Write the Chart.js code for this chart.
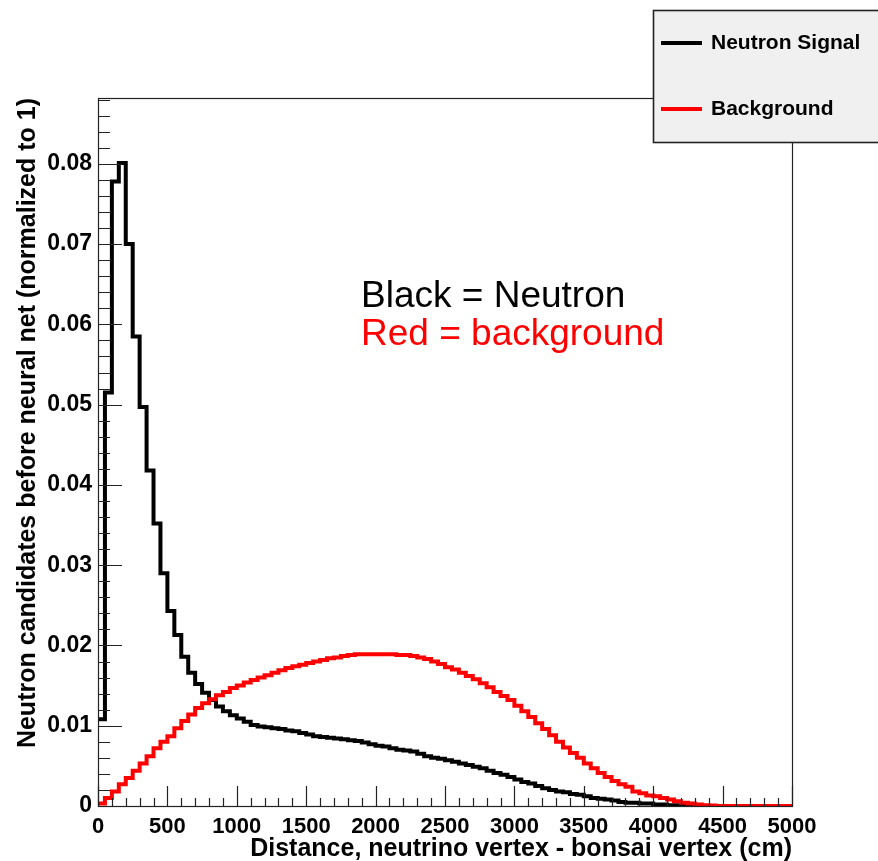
<!DOCTYPE html>
<html>
<head>
<meta charset="utf-8">
<script src="https://cdn.jsdelivr.net/npm/chart.js@4.4.1/dist/chart.umd.min.js"></script>
<style>
  html, body { margin: 0; padding: 0; background: #fff; }
  #wrap { width: 878px; height: 861px; }
</style>
</head>
<body>
<div id="wrap"><canvas id="chart" width="878" height="861"></canvas></div>
<script>
// histogram: 100 bins of 50 cm from 0 to 5000
const binWidth = 50;
const xMax = 5000;
const yMax = 0.0882;

const neutronSignal = [
  0.0108, 0.0515, 0.0778, 0.0801, 0.0700, 0.0585, 0.0497, 0.0418, 0.0352, 0.0290,
  0.0243, 0.0213, 0.0186, 0.0166, 0.0152, 0.0141, 0.0132, 0.0124, 0.0118, 0.0113,
  0.0109, 0.0105, 0.0101, 0.0099, 0.0098, 0.0097, 0.0096, 0.0094, 0.0093, 0.0091,
  0.0089, 0.0087, 0.0086, 0.0085, 0.0084, 0.0083, 0.0082, 0.0081, 0.0079, 0.0077,
  0.0075, 0.0074, 0.0072, 0.0070, 0.0069, 0.0068, 0.0065, 0.0062, 0.0060, 0.0059,
  0.0057, 0.0055, 0.0053, 0.0051, 0.0049, 0.0047, 0.0044, 0.0041, 0.0039, 0.0036,
  0.0033, 0.0030, 0.0028, 0.0025, 0.0022, 0.0020, 0.0018, 0.0017, 0.0015, 0.0014,
  0.0012, 0.0010, 0.0009, 0.0008, 0.0007, 0.0005, 0.0004, 0.0004, 0.0003, 0.0003,
  0.0002, 0.0002, 0.0001, 0.0001, 0.0001, 0.00005, 0, 0, 0, 0,
  0, 0, 0, 0, 0, 0, 0, 0, 0, 0
];

const background = [
  0.0003, 0.0010, 0.0018, 0.0027, 0.0035, 0.0044, 0.0053, 0.0062, 0.0072, 0.0080,
  0.0087, 0.0097, 0.0106, 0.0114, 0.0122, 0.0128, 0.0133, 0.0138, 0.0142, 0.0147,
  0.0150, 0.0154, 0.0157, 0.0160, 0.0163, 0.0166, 0.0169, 0.0172, 0.0174, 0.0176,
  0.0178, 0.0180, 0.0182, 0.0184, 0.0185, 0.0187, 0.0188, 0.0189, 0.0189, 0.0189,
  0.0189, 0.0189, 0.0189, 0.0188, 0.0188, 0.0187, 0.0185, 0.0183, 0.0180, 0.0177,
  0.0173, 0.0170, 0.0166, 0.0162, 0.0158, 0.0153, 0.0148, 0.0142, 0.0137, 0.0132,
  0.0125, 0.0118, 0.0111, 0.0103, 0.0096, 0.0088, 0.0080, 0.0073, 0.0066, 0.0060,
  0.0053, 0.0047, 0.0041, 0.0036, 0.0031, 0.0027, 0.0024, 0.0018, 0.0016, 0.0013,
  0.0012, 0.0010, 0.0008, 0.0006, 0.0004, 0.0003, 0.0002, 0.0001, 0.00005, 0,
  0, 0, 0, 0, 0, 0, 0, 0, 0, 0
];

const xTickValues = [0, 500, 1000, 1500, 2000, 2500, 3000, 3500, 4000, 4500, 5000];
const yTickValues = [0, 0.01, 0.02, 0.03, 0.04, 0.05, 0.06, 0.07, 0.08];

const legendLabels = ['Neutron Signal', 'Background'];
const noteLines = ['Black = Neutron', 'Red = background'];

// step outline: one point per bin low edge (value holds until the next point),
// plus a closing point at the high edge of the last bin
function toSteps(values) {
  const pts = values.map((v, i) => ({ x: i * binWidth, y: v }));
  pts.push({ x: values.length * binWidth, y: values[values.length - 1] });
  return pts;
}

const frameColor = '#222';

// ROOT-ish frame, inward ticks, legend box and the text notes
const rootStyle = {
  id: 'rootStyle',
  afterDatasetsDraw(chart) {
    const { ctx, chartArea: a, scales: { x, y } } = chart;
    ctx.save();
    ctx.strokeStyle = frameColor;
    ctx.lineWidth = 1.2;

    // frame
    ctx.strokeRect(a.left + 0.5, a.top + 0.5, a.right - a.left, a.bottom - a.top);

    // y ticks (major 0.01, minor 0.002), pointing into the plot
    ctx.beginPath();
    for (let k = 0; k * 0.002 <= yMax + 1e-9; k++) {
      const py = Math.round(y.getPixelForValue(k * 0.002)) + 0.5;
      const len = (k % 5 === 0) ? 24 : 12;
      ctx.moveTo(a.left, py);
      ctx.lineTo(a.left + len, py);
    }
    // x ticks (major 500, minor 100), pointing up
    for (let k = 0; k * 100 <= xMax; k++) {
      const px = Math.round(x.getPixelForValue(k * 100)) + 0.5;
      const len = (k % 5 === 0) ? 20 : 8;
      ctx.moveTo(px, a.bottom);
      ctx.lineTo(px, a.bottom - len);
    }
    ctx.stroke();

    // notes inside the plot
    ctx.font = '37px "Liberation Sans", Arial, sans-serif';
    ctx.textAlign = 'left';
    ctx.textBaseline = 'alphabetic';
    ctx.fillStyle = '#000';
    ctx.fillText(noteLines[0], x.getPixelForValue(1895), y.getPixelForValue(0.0622));
    ctx.fillStyle = '#ff0000';
    ctx.fillText(noteLines[1], x.getPixelForValue(1895), y.getPixelForValue(0.05745));

    // legend box (runs off the right edge like the original)
    ctx.fillStyle = '#f0f0f0';
    ctx.fillRect(653.5, 10.5, 280, 132);
    ctx.lineWidth = 1.6;
    ctx.strokeStyle = frameColor;
    ctx.strokeRect(653.5, 10.5, 280, 132);

    const rows = [{ c: '#000', y: 43 }, { c: '#ff0000', y: 109 }];
    ctx.font = 'bold 21px "Liberation Sans", Arial, sans-serif';
    ctx.textBaseline = 'middle';
    rows.forEach((r, i) => {
      ctx.strokeStyle = r.c;
      ctx.lineWidth = 4;
      ctx.beginPath();
      ctx.moveTo(661, r.y);
      ctx.lineTo(702, r.y);
      ctx.stroke();
      ctx.fillStyle = '#000';
      ctx.fillText(legendLabels[i], 711, r.y);
    });
    ctx.restore();
  }
};

const fontFamily = '"Liberation Sans", Arial, sans-serif';

new Chart(document.getElementById('chart'), {
  type: 'line',
  data: {
    datasets: [
      {
        label: legendLabels[0],
        data: toSteps(neutronSignal),
        borderColor: '#000',
        borderWidth: 4,
        stepped: 'before',
        pointRadius: 0,
        fill: false,
        order: 2
      },
      {
        label: legendLabels[1],
        data: toSteps(background),
        borderColor: '#ff0000',
        borderWidth: 4,
        stepped: 'before',
        pointRadius: 0,
        fill: false,
        order: 1
      }
    ]
  },
  options: {
    responsive: false,
    animation: false,
    devicePixelRatio: 1,
    layout: { padding: { top: 98, right: 86, left: 0, bottom: 0 } },
    plugins: {
      legend: { display: false },
      tooltip: { enabled: false }
    },
    scales: {
      x: {
        type: 'linear',
        min: 0,
        max: xMax,
        grid: { display: false, drawTicks: false },
        border: { display: false },
        afterBuildTicks: s => { s.ticks = xTickValues.map(v => ({ value: v })); },
        afterFit: s => { s.height = 55; },
        ticks: {
          autoSkip: false,
          maxRotation: 0,
          padding: 8,
          color: '#000',
          font: { family: fontFamily, weight: 'bold', size: 22 },
          callback: v => String(v)
        },
        title: {
          display: true,
          text: 'Distance, neutrino vertex - bonsai vertex (cm)',
          align: 'end',
          color: '#000',
          font: { family: fontFamily, weight: 'bold', size: 25, lineHeight: 1 },
          padding: { top: 0, bottom: -1 }
        }
      },
      y: {
        type: 'linear',
        min: 0,
        max: yMax,
        grid: { display: false, drawTicks: false },
        border: { display: false },
        afterBuildTicks: s => { s.ticks = yTickValues.map(v => ({ value: v })); },
        afterFit: s => { s.width = 98; },
        ticks: {
          padding: 6,
          color: '#000',
          font: { family: fontFamily, weight: 'bold', size: 23 },
          callback: v => (v === 0 ? '0' : v.toFixed(2))
        },
        title: {
          display: true,
          text: 'Neutron candidates before neural net (normalized to 1)',
          align: 'end',
          color: '#000',
          font: { family: fontFamily, weight: 'bold', size: 25, lineHeight: 1 },
          padding: { top: 16, bottom: 0 }
        }
      }
    }
  },
  plugins: [rootStyle]
});
</script>
</body>
</html>
